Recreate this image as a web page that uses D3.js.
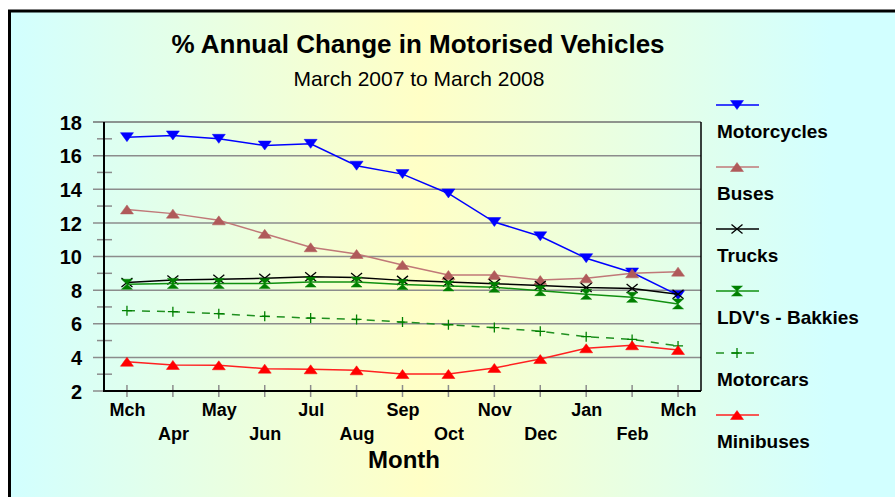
<!DOCTYPE html>
<html lang="en">
  <head>
    <meta charset="UTF-8" />
    <title>% Annual Change in Motorised Vehicles</title>
    <script src="https://d3js.org/d3.v7.min.js"></script>
    <style>
      body { margin: 0; background: #fff; }
      text { font-family: Arial, "Liberation Sans", sans-serif; }
    </style>
  </head>
  <body>
    <svg width="895" height="497"></svg>
    <script>
      // data
      const months = ["Mch", "Apr", "May", "Jun", "Jul", "Aug", "Sep", "Oct", "Nov", "Dec", "Jan", "Feb", "Mch "];
      const motorcycles = [17.1, 17.2, 17.0, 16.6, 16.7, 15.4, 14.9, 13.75, 12.05, 11.2, 9.9, 9.05, 7.7];
      const buses = [12.8, 12.55, 12.15, 11.35, 10.55, 10.15, 9.5, 8.9, 8.9, 8.6, 8.7, 9.0, 9.1];
      const trucks = [8.45, 8.6, 8.65, 8.7, 8.8, 8.75, 8.58, 8.48, 8.38, 8.27, 8.15, 8.1, 7.75];
      const ldvs = [8.35, 8.4, 8.4, 8.4, 8.48, 8.48, 8.33, 8.25, 8.17, 7.97, 7.75, 7.57, 7.18];
      const motorcars = [6.78, 6.72, 6.6, 6.44, 6.34, 6.26, 6.1, 5.94, 5.77, 5.55, 5.23, 5.07, 4.68];
      const minibuses = [3.74, 3.55, 3.53, 3.33, 3.29, 3.23, 3.01, 3.01, 3.37, 3.9, 4.54, 4.72, 4.44];
      const yTicks = [2, 4, 6, 8, 10, 12, 14, 16, 18];

      const series = [
        { name: "Motorcycles", values: motorcycles, color: "#0000ff", line: "#0000ff", marker: "down" },
        { name: "Buses", values: buses, color: "#b05a5a", line: "#c07878", marker: "up" },
        { name: "Trucks", values: trucks, color: "#000000", line: "#000000", marker: "x" },
        { name: "LDV's - Bakkies", values: ldvs, color: "#008000", line: "#109010", marker: "hourglass" },
        { name: "Motorcars", values: motorcars, color: "#008000", line: "#209020", marker: "plus", dash: "8,7" },
        { name: "Minibuses", values: minibuses, color: "#ff0000", line: "#ff2020", marker: "up" },
      ];

      const svg = d3.select("svg");
      const plot = { left: 104, top: 122, right: 701, bottom: 391 };

      // background gradient + frame
      const grad = svg.append("defs").append("linearGradient")
        .attr("id", "bg").attr("gradientUnits", "userSpaceOnUse")
        .attr("x1", 10).attr("x2", 830).attr("y1", 0).attr("y2", 0);
      grad.append("stop").attr("offset", 0).attr("stop-color", "#d2ffff");
      grad.append("stop").attr("offset", 0.5).attr("stop-color", "#ffffc6");
      grad.append("stop").attr("offset", 1).attr("stop-color", "#d2ffff");

      svg.append("rect").attr("x", 9.5).attr("y", 11).attr("width", 900).attr("height", 500)
        .attr("fill", "url(#bg)").attr("stroke", "#000").attr("stroke-width", 3);

      const x = d3.scalePoint().domain(months).range([plot.left, plot.right]).padding(0.5);
      const y = d3.scaleLinear().domain([2, 18]).range([plot.bottom, plot.top]);

      // gridlines (extend left as major ticks)
      svg.append("g").selectAll("line").data(yTicks).join("line")
        .attr("x1", 93).attr("x2", plot.right)
        .attr("y1", d => y(d)).attr("y2", d => y(d))
        .attr("stroke", d => d === 18 ? "#707070" : "#8c8c8c").attr("stroke-width", 1.5);

      // minor ticks
      svg.append("g").selectAll("line").data(d3.range(3, 18, 2)).join("line")
        .attr("x1", 97).attr("x2", 112)
        .attr("y1", d => y(d)).attr("y2", d => y(d))
        .attr("stroke", "#8c8c8c").attr("stroke-width", 1.5);

      // y axis labels
      const yAxis = d3.axisLeft(y).tickValues(yTicks).tickSize(0).tickPadding(0);
      const gy = svg.append("g").attr("transform", "translate(82,0)").call(yAxis);
      gy.select(".domain").remove();
      gy.selectAll("text").attr("font-size", 20).attr("font-weight", "bold").attr("fill", "#000")
        .attr("font-family", "Arial, 'Liberation Sans', sans-serif").attr("dy", "0.36em");

      // x ticks
      svg.append("g").selectAll("line").data(months).join("line")
        .attr("x1", d => x(d)).attr("x2", d => x(d)).attr("y1", 385).attr("y2", 397)
        .attr("stroke", "#8c8c8c").attr("stroke-width", 1.5);

      // axes lines
      svg.append("line").attr("x1", plot.left).attr("x2", plot.left).attr("y1", plot.top).attr("y2", plot.bottom + 1)
        .attr("stroke", "#000").attr("stroke-width", 2);
      svg.append("line").attr("x1", plot.left).attr("x2", plot.right).attr("y1", plot.bottom).attr("y2", plot.bottom)
        .attr("stroke", "#000").attr("stroke-width", 2);
      svg.append("line").attr("x1", plot.right).attr("x2", plot.right).attr("y1", plot.top).attr("y2", plot.bottom)
        .attr("stroke", "#000").attr("stroke-width", 1.5);

      // x labels, alternating rows
      const xAxis = d3.axisBottom(x).tickSize(0).tickPadding(0);
      const gx = svg.append("g").attr("transform", "translate(0,0)").call(xAxis);
      gx.select(".domain").remove();
      gx.selectAll(".tick line").remove();
      gx.selectAll("text")
        .attr("font-size", 18).attr("font-weight", "bold").attr("fill", "#000")
        .attr("font-family", "Arial, 'Liberation Sans', sans-serif")
        .attr("dy", null)
        .attr("y", (d, i) => i % 2 === 0 ? 416 : 440);

      // markers
      function markerPath(type) {
        switch (type) {
          case "down": return "M-6.5,-4.5L6.5,-4.5L0,4.5Z";
          case "up": return "M-6.5,4.5L6.5,4.5L0,-4.5Z";
          case "hourglass": return "M-5.5,-5L5.5,-5L0,0L5.5,5L-5.5,5L0,0Z";
          case "x": return "M-5.5,-4.5L5.5,4.5M-5.5,4.5L5.5,-4.5";
          case "plus": return "M-5,0L5,0M0,-5L0,5";
        }
      }
      function drawMarker(g, type, color) {
        const stroked = type === "x" || type === "plus";
        g.append("path").attr("d", markerPath(type))
          .attr("fill", stroked ? "none" : color)
          .attr("stroke", color).attr("stroke-width", stroked ? 1.3 : 0.5);
      }

      const line = d3.line().x((d, i) => x(months[i])).y(d => y(d));

      series.forEach(s => {
        svg.append("path").datum(s.values).attr("d", line)
          .attr("fill", "none").attr("stroke", s.line).attr("stroke-width", 1.5)
          .attr("stroke-dasharray", s.dash || null);
        s.values.forEach((v, i) => {
          const g = svg.append("g").attr("transform", `translate(${x(months[i])},${y(v)})`);
          drawMarker(g, s.marker, s.color);
        });
      });

      // legend
      const legend = svg.append("g").attr("transform", "translate(716,105)");
      series.forEach((s, i) => {
        const g = legend.append("g").attr("transform", `translate(0,${i * 62})`);
        g.append("line").attr("x1", 0).attr("x2", 43).attr("y1", 0).attr("y2", 0)
          .attr("stroke", s.line).attr("stroke-width", 1.5).attr("stroke-dasharray", s.dash || null);
        const m = g.append("g").attr("transform", "translate(21,0)");
        drawMarker(m, s.marker, s.color);
        g.append("text").attr("x", 1).attr("y", 33).text(s.name)
          .attr("font-size", 19).attr("font-weight", "bold");
      });

      // titles
      svg.append("text").attr("x", 418).attr("y", 53).attr("text-anchor", "middle")
        .attr("font-size", 26).attr("font-weight", "bold").text("% Annual Change in Motorised Vehicles");
      svg.append("text").attr("x", 419).attr("y", 86).attr("text-anchor", "middle")
        .attr("font-size", 21).text("March 2007 to March 2008");
      svg.append("text").attr("x", 404).attr("y", 468).attr("text-anchor", "middle")
        .attr("font-size", 24).attr("font-weight", "bold").text("Month");
    </script>
  </body>
</html>
